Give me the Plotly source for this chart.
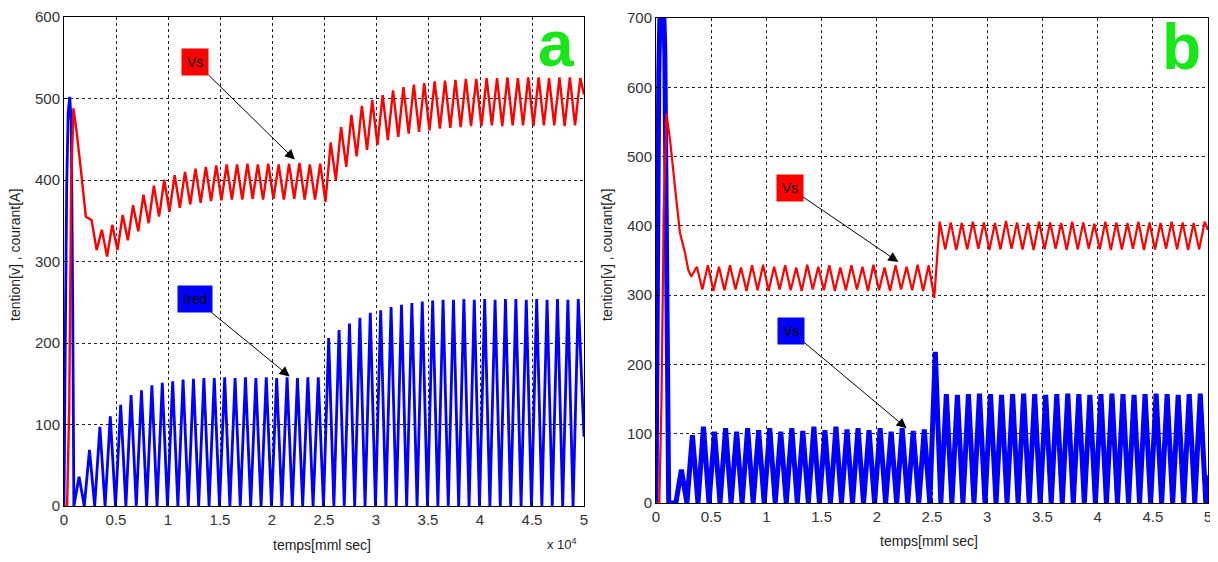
import plotly.graph_objects as go

W, H = 1218, 562
OFF = 8                      # default page margin of the html body
FW, FH = W - OFF, H - 2 * OFF


def px(p):
    return (p - OFF) / FW


def py(p):
    return 1 - (p - OFF) / FH


# ---------------- Panel a (x in units of 1e4) ----------------
a_vs_trans_t = [0, 0.03, 0.05, 0.07, 0.09, 0.12, 0.155, 0.185, 0.21, 0.265]
a_vs_trans_v = [0, 0, 120, 400, 488, 461, 421, 388, 355, 351]
a_vs_first_trough = 0.314
a_vs_troughs = [314, 306, 314, 326, 337, 347, 355, 361, 366, 370, 372, 374,
                375, 376, 376, 377, 376, 377, 376, 377, 376, 376,
                373, 400, 416, 429, 437, 443, 449, 453, 457, 459, 461, 463,
                464, 465, 466, 466,
                467, 466, 467, 467, 466, 467, 467, 466, 467]
a_vs_peaks = [339, 345, 357, 369, 382, 393, 400, 406, 410, 414, 416, 418,
              419, 419, 420, 419, 420, 419, 420, 421, 419, 420,
              446, 465, 480, 491, 498, 504, 510, 514, 517, 519, 521, 522,
              523, 524, 524, 525,
              525, 526, 525, 526, 526, 525, 526, 526, 525]
a_vs_end = (5.0, 505)

a_ir_trans_t = [0, 0.004, 0.012, 0.026, 0.04, 0.055, 0.07, 0.084, 0.09]
a_ir_trans_v = [0, 126, 200, 392, 482, 502, 470, 240, 0]
a_ir_first_trough = 0.095
a_ir_troughs = [0] * 49
a_ir_peaks = [36, 69, 97, 110, 124, 136, 142, 148, 151, 153, 155, 156,
              157, 157, 158, 157, 158, 157, 158, 157, 158, 157, 158, 158,
              206, 216, 224, 231, 237, 240, 244, 247, 249, 251, 252, 253,
              253, 254, 253, 254, 253, 254, 254, 253, 254, 253, 254, 253, 254]
a_ir_end = (5.0, 85)

# ---------------- Panel b ----------------
b_vs_trans_t = [0, 0.03, 0.05, 0.07, 0.095, 0.127, 0.172, 0.217, 0.263, 0.293]
b_vs_trans_v = [0, 0, 150, 420, 562, 524, 456, 390, 361, 336]
b_vs_first_trough = 0.32
b_vs_troughs = [327, 308, 306, 307, 308, 306, 307, 306, 308, 307, 306, 308,
                307, 306, 307, 308, 306, 307, 306, 308, 307, 306,
                296,
                366, 365, 366, 367, 365, 366, 367, 366, 365, 366, 367, 365,
                366, 367, 366, 365, 366, 367, 365, 366, 367, 366, 365, 366]
b_vs_peaks = [341, 343, 341, 343, 340, 343, 344, 341, 343, 340, 344, 341,
              343, 340, 343, 341, 344, 340, 343, 341, 344, 343,
              406, 405, 404, 406, 405, 404, 407, 405, 404, 406, 405, 404,
              406, 405, 403, 406, 405, 404, 406, 405, 404, 406, 405, 404, 406]
b_vs_end = (5.0, 394)

b_ir_trans_t = [0, 0.012, 0.025, 0.04, 0.065, 0.08, 0.09, 0.105, 0.115]
b_ir_trans_v = [0, 447, 618, 740, 740, 651, 471, 188, 0]
b_ir_first_trough = 0.18
b_ir_troughs = [0] * 49
b_ir_peaks = [48, 98, 110, 103, 108, 103, 108, 105, 108, 103, 108, 104,
              110, 105, 110, 106, 108, 105, 108, 103, 108, 104, 106, 218,
              157, 156, 157, 158, 157, 156, 157, 158, 157, 156, 157, 158,
              157, 156, 157, 158, 157, 156, 157, 158, 157, 156, 157, 158]
b_ir_end = (5.0, 40)

x_ticks = [0, 0.5, 1, 1.5, 2, 2.5, 3, 3.5, 4, 4.5, 5]
a_y_ticks = [0, 100, 200, 300, 400, 500, 600]
b_y_ticks = [0, 100, 200, 300, 400, 500, 600, 700]

HALF = 0.05  # half of the oscillation period (sampling grid)


def series(tt, tv, t0, troughs, peaks, end):
    xs, ys = list(tt), list(tv)
    n = max(len(troughs), len(peaks))
    for k in range(n):
        if k < len(troughs):
            xs.append(t0 + 2 * HALF * k)
            ys.append(troughs[k])
        if k < len(peaks):
            xs.append(t0 + HALF + 2 * HALF * k)
            ys.append(peaks[k])
    xs.append(end[0])
    ys.append(end[1])
    return xs, ys


RED, BLUE = "#ff0000", "#0000ff"
fig = go.Figure()

x, y = series(a_ir_trans_t, a_ir_trans_v, a_ir_first_trough, a_ir_troughs, a_ir_peaks, a_ir_end)
fig.add_trace(go.Scatter(x=x, y=y, mode="lines", line=dict(color=BLUE, width=2.8), xaxis="x", yaxis="y"))
x, y = series(a_vs_trans_t, a_vs_trans_v, a_vs_first_trough, a_vs_troughs, a_vs_peaks, a_vs_end)
fig.add_trace(go.Scatter(x=x, y=y, mode="lines", line=dict(color=RED, width=2.4), xaxis="x", yaxis="y"))

x, y = series(b_ir_trans_t, b_ir_trans_v, b_ir_first_trough, b_ir_troughs, b_ir_peaks, b_ir_end)
fig.add_trace(go.Scatter(x=x, y=y, mode="lines", line=dict(color=BLUE, width=5), xaxis="x2", yaxis="y2"))
x, y = series(b_vs_trans_t, b_vs_trans_v, b_vs_first_trough, b_vs_troughs, b_vs_peaks, b_vs_end)
fig.add_trace(go.Scatter(x=x, y=y, mode="lines", line=dict(color=RED, width=2.2), xaxis="x2", yaxis="y2"))

FONT = "Liberation Sans, Arial, sans-serif"
axis_common = dict(showgrid=True, gridcolor="#222", gridwidth=1, griddash="3px,3px",
                   showline=True, linecolor="black", linewidth=1, mirror=True,
                   zeroline=False, ticks="inside", ticklen=4, tickcolor="black",
                   automargin=False,
                   tickfont=dict(family=FONT, size=15, color="#333"))

fig.update_layout(
    width=FW, height=FH, showlegend=False,
    paper_bgcolor="white", plot_bgcolor="white",
    margin=dict(l=0, r=0, t=0, b=0),
    xaxis=dict(domain=[px(64), px(584)], range=[0, 5], tickvals=x_ticks, anchor="y", **axis_common),
    yaxis=dict(domain=[py(506), py(17)], range=[0, 600], tickvals=a_y_ticks, anchor="x", **axis_common),
    xaxis2=dict(domain=[px(656), px(1208)], range=[0, 5], tickvals=x_ticks, anchor="y2", **axis_common),
    yaxis2=dict(domain=[py(503), py(18)], range=[0, 700], tickvals=b_y_ticks, anchor="x2", **axis_common),
)

ann = []
lab = dict(family=FONT, size=14, color="#222")
# axis titles
for cx in (15, 607):
    ann.append(dict(x=px(cx), y=py(255), xref="paper", yref="paper", text="tention[v] , courant[A]",
                    textangle=-90, showarrow=False, font=lab, xanchor="center", yanchor="middle"))
ann.append(dict(x=px(322), y=py(545), xref="paper", yref="paper", text="temps[mml sec]",
                showarrow=False, font=lab, xanchor="center", yanchor="middle"))
ann.append(dict(x=px(929), y=py(541), xref="paper", yref="paper", text="temps[mml sec]",
                showarrow=False, font=lab, xanchor="center", yanchor="middle"))
ann.append(dict(x=px(562), y=py(544), xref="paper", yref="paper", text="x 10<sup>4</sup>",
                showarrow=False, font=dict(family=FONT, size=13, color="#222"),
                xanchor="center", yanchor="middle"))
# panel letters
GREEN = "#19e619"
ann.append(dict(x=px(556), y=py(44), xref="paper", yref="paper", text="<b>a</b>", showarrow=False,
                font=dict(family=FONT, size=64, color=GREEN), xanchor="center", yanchor="middle"))
ann.append(dict(x=px(1181), y=py(47), xref="paper", yref="paper", text="<b>b</b>", showarrow=False,
                font=dict(family=FONT, size=64, color=GREEN), xanchor="center", yanchor="middle"))


# callouts (box at ax/ay, arrow head at x/y)
def callout(text, bg, xr, yr, ax, ay, x, y):
    return dict(text=text, xref=xr, yref=yr, axref=xr, ayref=yr, ax=ax, ay=ay, x=x, y=y,
                showarrow=True, arrowhead=2, arrowsize=2, arrowwidth=1, arrowcolor="black",
                bgcolor=bg, borderpad=5, font=dict(family=FONT, size=14, color="black"))


ann.append(callout("Vs", RED, "x", "y", 1.26, 545, 2.22, 425))
ann.append(callout("Ired", BLUE, "x", "y", 1.26, 254, 2.17, 159))
ann.append(callout("Vs", RED, "x2", "y2", 1.21, 455, 2.195, 348))
ann.append(callout("Vs", BLUE, "x2", "y2", 1.22, 248, 2.27, 108))

fig.update_layout(annotations=ann)
fig.write_html("out.html")
